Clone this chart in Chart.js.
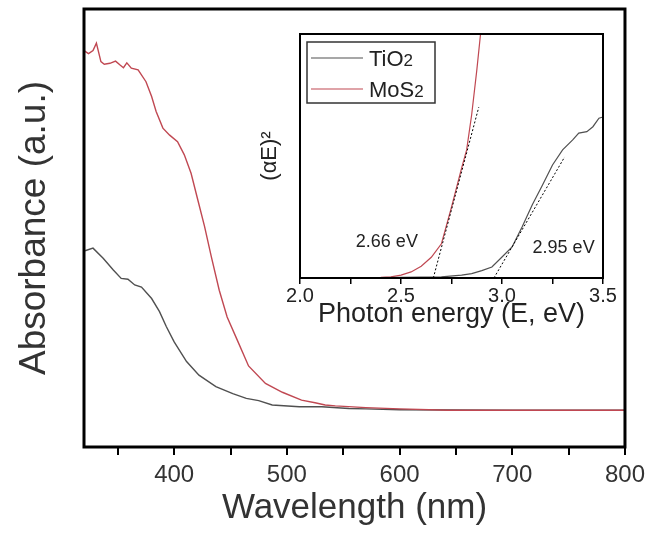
<!DOCTYPE html>
<html>
<head>
<meta charset="utf-8">
<script src="https://cdn.jsdelivr.net/npm/chart.js@4.4.1/dist/chart.umd.min.js"></script>
<style>
  html, body { margin: 0; padding: 0; background: #fff; }
  #wrap { position: relative; width: 651px; height: 536px; }
  #main-chart { position: absolute; left: 0; top: 0; }
  #inset-chart { position: absolute; left: 240px; top: 20px; }
</style>
</head>
<body>
<div id="wrap">
  <canvas id="main-chart" width="651" height="536"></canvas>
  <canvas id="inset-chart" width="380" height="320"></canvas>
</div>
<script>
// main panel: absorbance vs wavelength
var mosWavelength = [320, 324, 328, 331, 335, 338, 343, 348, 352, 355, 358, 362, 368, 375, 380, 384, 390, 396, 403, 409, 415, 421, 427, 433, 440, 447, 456, 466, 481, 496, 513, 525, 534, 543, 570, 600, 643, 700, 800]
var mosAbsorbance = [0.905, 0.898, 0.905, 0.922, 0.880, 0.874, 0.876, 0.881, 0.872, 0.866, 0.877, 0.865, 0.861, 0.834, 0.800, 0.766, 0.728, 0.712, 0.697, 0.667, 0.625, 0.564, 0.503, 0.434, 0.358, 0.297, 0.244, 0.185, 0.145, 0.125, 0.107, 0.101, 0.096, 0.094, 0.090, 0.087, 0.084, 0.084, 0.084]

var tioWavelength = [321, 328, 337, 346, 353, 359, 365, 371, 380, 387, 393, 400, 411, 422, 437, 452, 464, 475, 487, 511, 531, 555, 570, 600, 700, 800]
var tioAbsorbance = [0.448, 0.454, 0.431, 0.404, 0.385, 0.383, 0.370, 0.365, 0.339, 0.309, 0.275, 0.240, 0.195, 0.164, 0.138, 0.122, 0.111, 0.106, 0.096, 0.092, 0.092, 0.088, 0.087, 0.085, 0.084, 0.084]

var wavelengthTicks = [350, 400, 450, 500, 550, 600, 650, 700, 750, 800]

// inset: Tauc plot
var mosEnergy = [2.0, 2.2, 2.4, 2.45, 2.5, 2.55, 2.6, 2.65, 2.7, 2.75, 2.8, 2.825, 2.85, 2.875, 2.9]
var mosTauc = [0.002, 0.002, 0.003, 0.005, 0.012, 0.025, 0.048, 0.085, 0.14, 0.29, 0.45, 0.525, 0.67, 0.85, 1.05]

var tioEnergy = [2.0, 2.4, 2.7, 2.8, 2.85, 2.9, 2.95, 3.0, 3.05, 3.1, 3.15, 3.2, 3.25, 3.3, 3.35, 3.38, 3.42, 3.45, 3.48, 3.5]
var tioTauc = [0.002, 0.002, 0.005, 0.012, 0.018, 0.03, 0.045, 0.086, 0.127, 0.21, 0.30, 0.38, 0.463, 0.525, 0.566, 0.594, 0.60, 0.62, 0.655, 0.66]

var mosFitEnergy = [2.66, 2.885]
var mosFitTauc = [0, 0.70]
var tioFitEnergy = [2.96, 3.31]
var tioFitTauc = [0, 0.496]

var energyTicks = [2.0, 2.25, 2.5, 2.75, 3.0, 3.25, 3.5]

var seriesNames = ['TiO2', 'MoS2']

const FONT = "'Liberation Sans', Arial, sans-serif"
const GREY = 'rgb(80, 80, 80)'
const RED = 'rgb(192, 72, 82)'

function toPoints(xs, ys)
{
    return xs.map(function (x, i) { return { x: x, y: ys[i] } })
}

const framePlugin = {
    id: 'frame',
    beforeDraw: function (chart, args, opts)
    {
        const a = chart.chartArea
        const ctx = chart.ctx
        ctx.save()
        ctx.fillStyle = '#fff'
        ctx.fillRect(a.left, a.top, a.right - a.left, a.bottom - a.top)
        ctx.restore()
    },
    afterDraw: function (chart, args, opts)
    {
        const a = chart.chartArea
        const ctx = chart.ctx
        ctx.save()
        ctx.strokeStyle = '#000'
        ctx.lineWidth = opts.width
        ctx.strokeRect(a.left, a.top, a.right - a.left, a.bottom - a.top)
        ctx.restore()
    }
}

function setMainChart()
{
    new Chart('main-chart', {
        type: 'scatter',
        data: {
            datasets: [
                {
                    label: seriesNames[1],
                    data: toPoints(mosWavelength, mosAbsorbance),
                    borderColor: RED,
                    borderWidth: 1.4,
                    showLine: true,
                    pointRadius: 0
                },
                {
                    label: seriesNames[0],
                    data: toPoints(tioWavelength, tioAbsorbance),
                    borderColor: GREY,
                    borderWidth: 1.4,
                    showLine: true,
                    pointRadius: 0
                }
            ]
        },
        options: {
            responsive: false,
            animation: false,
            layout: { padding: { top: 9, right: 25, left: 0, bottom: 0 } },
            plugins: {
                legend: { display: false },
                tooltip: { enabled: false },
                frame: { width: 3 }
            },
            scales: {
                x: {
                    type: 'linear',
                    min: 320,
                    max: 800,
                    border: { display: false },
                    grid: { drawOnChartArea: false, drawTicks: true, tickLength: 8, color: '#000', lineWidth: 2 },
                    afterBuildTicks: function (s) { s.ticks = wavelengthTicks.map(function (v) { return { value: v } }) },
                    afterFit: function (s) { s.height = 89 },
                    ticks: {
                        padding: 6,
                        color: '#333',
                        font: { family: FONT, size: 24 },
                        callback: function (v) { return v % 100 === 0 ? String(v) : '' }
                    },
                    title: {
                        display: true,
                        text: 'Wavelength (nm)',
                        color: '#333',
                        font: { family: FONT, size: 35 },
                        padding: { top: 0, bottom: 7 }
                    }
                },
                y: {
                    min: 0,
                    max: 1,
                    border: { display: false },
                    grid: { display: false },
                    ticks: { display: false },
                    afterFit: function (s) { s.width = 84 },
                    title: {
                        display: true,
                        text: 'Absorbance (a.u.)',
                        color: '#333',
                        font: { family: FONT, size: 37 },
                        padding: { top: 13, bottom: 0 }
                    }
                }
            }
        },
        plugins: [framePlugin]
    })
}

const insetExtras = {
    id: 'insetExtras',
    afterDraw: function (chart, args, opts)
    {
        const a = chart.chartArea
        const ctx = chart.ctx
        const xs = chart.scales.x
        const ys = chart.scales.y
        ctx.save()

        // band gap labels
        ctx.fillStyle = '#222'
        ctx.font = '18px ' + FONT
        ctx.textAlign = 'center'
        ctx.textBaseline = 'middle'
        opts.notes.forEach(function (n) {
            ctx.fillText(n.text, xs.getPixelForValue(n.x), ys.getPixelForValue(n.y))
        })

        // legend box
        const bx = a.left + 7, by = a.top + 8
        ctx.strokeStyle = '#333'
        ctx.lineWidth = 1.5
        ctx.strokeRect(bx, by, 128, 61)
        const colors = [GREY, RED]
        const rows = [24, 55]
        ctx.textAlign = 'left'
        ctx.textBaseline = 'alphabetic'
        seriesNames.forEach(function (name, i) {
            const y = a.top + rows[i]
            ctx.strokeStyle = colors[i]
            ctx.lineWidth = 1.2
            ctx.beginPath()
            ctx.moveTo(a.left + 11, y)
            ctx.lineTo(a.left + 63, y)
            ctx.stroke()
            const base = name.replace(/\d+$/, '')
            const sub = name.slice(base.length)
            ctx.fillStyle = '#222'
            ctx.font = '22px ' + FONT
            ctx.fillText(base, a.left + 69, y + 8)
            const w = ctx.measureText(base).width
            ctx.font = '17px ' + FONT
            ctx.fillText(sub, a.left + 69 + w, y + 8)
        })
        ctx.restore()
    }
}

function setInsetChart()
{
    new Chart('inset-chart', {
        type: 'scatter',
        data: {
            datasets: [
                {
                    label: 'fit ' + seriesNames[1],
                    data: toPoints(mosFitEnergy, mosFitTauc),
                    borderColor: '#000',
                    borderWidth: 1,
                    borderDash: [2, 2],
                    showLine: true,
                    pointRadius: 0
                },
                {
                    label: 'fit ' + seriesNames[0],
                    data: toPoints(tioFitEnergy, tioFitTauc),
                    borderColor: '#000',
                    borderWidth: 1,
                    borderDash: [2, 2],
                    showLine: true,
                    pointRadius: 0
                },
                {
                    label: seriesNames[0],
                    data: toPoints(tioEnergy, tioTauc),
                    borderColor: GREY,
                    borderWidth: 1.2,
                    showLine: true,
                    pointRadius: 0
                },
                {
                    label: seriesNames[1],
                    data: toPoints(mosEnergy, mosTauc),
                    borderColor: RED,
                    borderWidth: 1.2,
                    showLine: true,
                    pointRadius: 0
                }
            ]
        },
        options: {
            responsive: false,
            animation: false,
            layout: { padding: { top: 14, right: 17, left: 0, bottom: 0 } },
            plugins: {
                legend: { display: false },
                tooltip: { enabled: false },
                frame: { width: 2 },
                insetExtras: {
                    notes: [
                        { text: '2.66 eV', x: 2.43, y: 0.148 },
                        { text: '2.95 eV', x: 3.305, y: 0.123 }
                    ]
                }
            },
            scales: {
                x: {
                    type: 'linear',
                    min: 2.0,
                    max: 3.5,
                    border: { display: false },
                    grid: { drawOnChartArea: false, drawTicks: true, tickLength: 6, color: '#000', lineWidth: 1.5 },
                    afterBuildTicks: function (s) { s.ticks = energyTicks.map(function (v) { return { value: v } }) },
                    afterFit: function (s) { s.height = 62 },
                    ticks: {
                        padding: 0,
                        color: '#222',
                        font: { family: FONT, size: 20 },
                        callback: function (v) { return Math.abs(v * 2 - Math.round(v * 2)) < 1e-6 ? v.toFixed(1) : '' }
                    },
                    title: {
                        display: true,
                        text: 'Photon energy (E, eV)',
                        color: '#222',
                        font: { family: FONT, size: 27 },
                        padding: { top: 0, bottom: 9 }
                    }
                },
                y: {
                    min: 0,
                    max: 1,
                    border: { display: false },
                    grid: { display: false },
                    ticks: { display: false },
                    afterFit: function (s) { s.width = 60 },
                    title: {
                        display: true,
                        text: '(αE)²',
                        color: '#222',
                        font: { family: FONT, size: 22 },
                        padding: { top: 17, bottom: 0 }
                    }
                }
            }
        },
        plugins: [framePlugin, insetExtras]
    })
}

setMainChart()
setInsetChart()
</script>
</body>
</html>
